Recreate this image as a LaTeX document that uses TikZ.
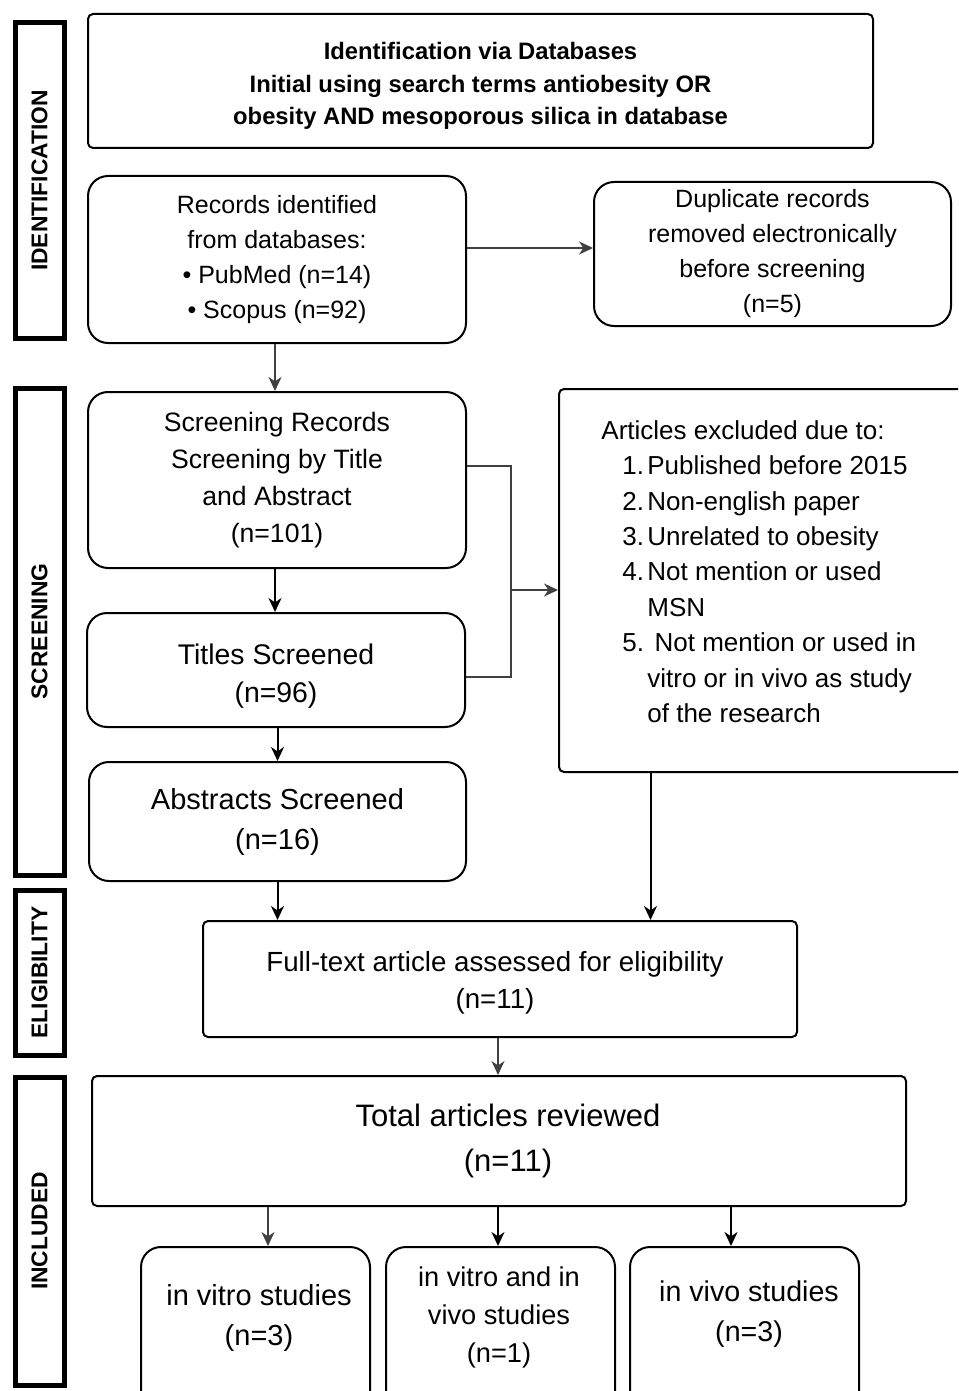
\documentclass[tikz,border=0pt]{standalone}
\usepackage{fontspec}
\setmainfont{Liberation Sans}
\usetikzlibrary{arrows.meta}
\newcommand\fs[2]{\fontsize{#1}{#2}\selectfont}
\tikzset{
  rbox/.style={draw, line width=1pt, rounded corners=10pt, align=center, inner sep=0pt},
  sbox/.style={draw, line width=1pt, rounded corners=2.5pt, align=center, inner sep=0pt},
  phase/.style={draw, line width=2.5pt, inner sep=0pt, rotate=90, minimum height=24.5pt, font=\fs{11.4}{13}\bfseries},
  tip/.style={-{Stealth[length=7pt,width=6.5pt,inset=2.2pt]}},
  thinarr/.style={draw=black!75, line width=0.7pt, tip},
  thickarr/.style={draw=black, line width=1pt, tip},
  thinline/.style={draw=black!75, line width=0.7pt},
  txt/.style={align=center, inner sep=0pt}
}
\begin{document}
\begin{tikzpicture}[x=0.5pt, y=-0.5pt]
\useasboundingbox (0,0) rectangle (958,1391);
\fill[white] (0,0) rectangle (958,1391);
\begin{scope}
\clip (0,0) rectangle (958,1391);
% phase labels
\node[phase, minimum width=157.5pt] (ph1) at (39.5,180.5) {IDENTIFICATION};
\node[phase, minimum width=243.5pt] (ph2) at (39.5,631.5) {SCREENING};
\node[phase, minimum width=82.5pt] (ph3) at (39.5,972.5) {ELIGIBILITY};
\node[phase, minimum width=154pt] (ph4) at (39.5,1231) {INCLUDED};

% boxes
\node[sbox, minimum width=392.5pt, minimum height=67pt,
  label={[txt, yshift=-2.5pt, font=\fs{11.9}{16.25}\bfseries]center:{Identification via Databases\\Initial using search terms antiobesity OR\\obesity AND mesoporous silica in database}}] (top) at (480.5,81) {};
\node[rbox, minimum width=189pt, minimum height=83.5pt, font=\fs{12.5}{17.5}] (rec) at (277,259.5)
  {Records identified\\from databases:\\• PubMed (n=14)\\• Scopus (n=92)};
\node[rbox, minimum width=178.5pt, minimum height=72pt, font=\fs{12.5}{17.5}] (dup) at (772.5,254)
  {Duplicate records\\removed electronically\\before screening\\(n=5)};
\node[rbox, minimum width=189pt, minimum height=88pt, font=\fs{13.3}{18.5}] (scr) at (277,480)
  {Screening Records\\Screening by Title\\and Abstract\\(n=101)};
\node[rbox, minimum width=189pt, minimum height=57pt,
  label={[txt, yshift=-3pt, font=\fs{14.2}{19}]center:{Titles Screened\\(n=96)}}] (tit) at (276,670) {};
\node[rbox, minimum width=188.5pt, minimum height=59.5pt, font=\fs{14.5}{20}] (abs) at (277.5,821.5)
  {Abstracts Screened\\(n=16)};
\node[sbox, minimum width=205.5pt, minimum height=191.5pt] (exc) at (764.5,580.5) {};
\node[anchor=north west, align=left, inner sep=0pt, font=\fs{13}{17.7}] (exct) at (601,420)
  {Articles excluded due to:\\
   \hspace*{10.5pt}\makebox[12.5pt][l]{1.}Published before 2015\\
   \hspace*{10.5pt}\makebox[12.5pt][l]{2.}Non-english paper\\
   \hspace*{10.5pt}\makebox[12.5pt][l]{3.}Unrelated to obesity\\
   \hspace*{10.5pt}\makebox[12.5pt][l]{4.}Not mention or used\\
   \hspace*{23pt}MSN\\
   \hspace*{10.5pt}\makebox[12.5pt][l]{5.}\ Not mention or used in\\
   \hspace*{23pt}vitro or in vivo as study\\
   \hspace*{23pt}of the research};
\node[sbox, minimum width=297pt, minimum height=58pt,
  label={[txt, yshift=-2pt, xshift=-2.5pt, font=\fs{13.85}{18.5}]center:{Full-text article assessed for eligibility\\(n=11)}}] (full) at (500,979) {};
\node[sbox, minimum width=407pt, minimum height=65pt,
  label={[txt, xshift=4.5pt, font=\fs{15.5}{22.5}]center:{Total articles reviewed\\(n=11)}}] (tot) at (499,1141) {};
\node[rbox, minimum width=114.5pt, minimum height=86.5pt] (b1) at (255.5,1333.5) {};
\node[rbox, minimum width=114.5pt, minimum height=86.5pt] (b2) at (500.5,1333.5) {};
\node[rbox, minimum width=114.5pt, minimum height=86.5pt] (b3) at (744.5,1333.5) {};
\node[txt, font=\fs{14.5}{20}] (b1t) at (259,1318) {in vitro studies\\(n=3)};
\node[txt, font=\fs{13.6}{19}] (b2t) at (499,1317) {in vitro and in\\vivo studies\\(n=1)};
\node[txt, font=\fs{14.3}{20}] (b3t) at (749,1314) {in vivo studies\\(n=3)};

% connectors
\draw[thinarr] ([yshift=5.75pt]rec.east) -- ([yshift=5.75pt]rec.east -| dup.west);
\draw[thinarr] ([xshift=-1pt]rec.south) -- ([xshift=-1pt]scr.north);
\coordinate (j) at (511,590);
\draw[thinline] ([yshift=7pt]scr.east) -| (j);
\draw[thinline] ([yshift=-3.5pt]tit.east) -| (j);
\draw[thinarr] (j) -- (j -| exc.west);
\draw[thickarr] ([xshift=-1pt]scr.south) -- ([xshift=-1pt]scr.south |- tit.north);
\draw[thickarr] (abs.north |- tit.south) -- (abs.north);
\draw[thickarr] (abs.south) -- (abs.south |- full.north);
\draw[thickarr] ([xshift=-57pt]exc.south) -- ([xshift=-57pt]exc.south |- full.north);
\draw[thinarr] ([xshift=-1pt]full.south) -- ([xshift=-1pt]full.south |- tot.north);
\draw[thinarr] ([xshift=6.25pt]b1.north |- tot.south) -- ([xshift=6.25pt]b1.north);
\draw[thickarr] ([xshift=-1.25pt]b2.north |- tot.south) -- ([xshift=-1.25pt]b2.north);
\draw[thickarr] ([xshift=-6.75pt]b3.north |- tot.south) -- ([xshift=-6.75pt]b3.north);
\end{scope}
\end{tikzpicture}
\end{document}
